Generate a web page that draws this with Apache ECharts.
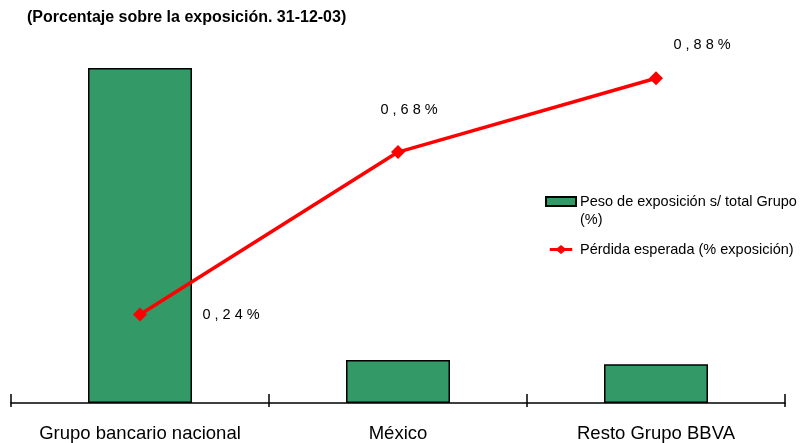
<!DOCTYPE html>
<html>
<head>
<meta charset="utf-8">
<script src="https://cdn.jsdelivr.net/npm/echarts@6/dist/echarts.min.js"></script>
<style>
  html, body { margin: 0; padding: 0; background: #fff; }
  #chart { width: 801px; height: 443px; }
</style>
</head>
<body>
<div id="chart"></div>
<script>
// Exposure share by business area and expected loss, 31-12-03
const categories = ['Grupo bancario nacional', 'México', 'Resto Grupo BBVA'];
const exposureShare = [80.4, 10.3, 9.3];      // % of total Group exposure
const expectedLoss = [0.24, 0.68, 0.88];       // % of exposure
const seriesNames = ['Peso de exposición s/ total Grupo (%)', 'Pérdida esperada (% exposición)'];
const titleText = '(Porcentaje sobre la exposición. 31-12-03)';

const FONT = "'Liberation Sans', Arial, sans-serif";

// label placement around each loss marker
const lossLabelOffsets = [[91, 1], [11, -42], [46, -33]];

// legend glyph for the loss series: line with a diamond in the middle
const lineDiamondIcon = 'path://M0,4 L10,4 L15,0 L20,4 L30,4 L30,8 L20,8 L15,12 L10,8 L0,8 Z';

function spaced(s) {
  return s.split('').join(' ');
}

const chart = echarts.init(document.getElementById('chart'));

chart.setOption({
  animation: false,
  backgroundColor: '#ffffff',
  title: {
    text: titleText,
    left: 22,
    top: 5,
    textStyle: { fontFamily: FONT, fontSize: 16, fontWeight: 'bold', color: '#000' }
  },
  legend: {
    orient: 'vertical',
    left: 545,
    top: 174.5,
    padding: 0,
    itemWidth: 30,
    itemHeight: 9,
    itemGap: 12,
    // a leading empty line keeps the first line of the wrapped name level with its swatch
    formatter: name => (name === seriesNames[0] ? '\n' + name : name),
    textStyle: { fontFamily: FONT, fontSize: 14.5, color: '#000', lineHeight: 18, padding: [0, 0, 0, -1] },
    data: [
      {
        name: seriesNames[0],
        icon: 'rect',
        textStyle: { width: 234, overflow: 'break' }
      },
      {
        name: seriesNames[1],
        icon: lineDiamondIcon,
        itemStyle: { color: '#ff0000', borderWidth: 0 }
      }
    ]
  },
  grid: { left: 11, right: 16, top: 34, bottom: 39, containLabel: false },
  xAxis: [
    {
      type: 'category',
      data: categories,
      position: 'bottom',
      axisLine: { show: true, lineStyle: { color: '#000', width: 1.5 } },
      axisTick: { show: true, inside: false, length: 4, lineStyle: { color: '#000', width: 1.5 } },
      axisLabel: { interval: 0, fontFamily: FONT, fontSize: 18.5, color: '#000', margin: 21 }
    },
    {
      type: 'category',
      data: categories,
      position: 'bottom',
      axisLine: { show: false },
      axisTick: { show: true, inside: true, length: 9, lineStyle: { color: '#000', width: 1.5 } },
      axisLabel: { show: false }
    }
  ],
  yAxis: [
    { type: 'value', min: 0, max: 88.54, show: false, splitLine: { show: false } },
    { type: 'value', min: 0, max: 1.0, show: false, splitLine: { show: false } }
  ],
  series: [
    {
      name: seriesNames[0],
      type: 'bar',
      xAxisIndex: 0,
      yAxisIndex: 0,
      barWidth: 104,
      data: exposureShare,
      itemStyle: { color: '#339966', borderColor: '#000', borderWidth: 1.5 }
    },
    {
      name: seriesNames[1],
      type: 'line',
      xAxisIndex: 0,
      yAxisIndex: 1,
      data: expectedLoss.map((v, i) => ({
        value: v,
        label: { offset: lossLabelOffsets[i] }
      })),
      symbol: 'diamond',
      symbolSize: 14,
      lineStyle: { color: '#ff0000', width: 3.5 },
      itemStyle: { color: '#ff0000' },
      label: {
        show: true,
        position: 'inside',
        fontFamily: FONT,
        fontSize: 14.5,
        color: '#000',
        formatter: p => spaced(p.value.toFixed(2).replace('.', ',') + '%')
      },
      z: 5
    }
  ]
});
</script>
</body>
</html>
